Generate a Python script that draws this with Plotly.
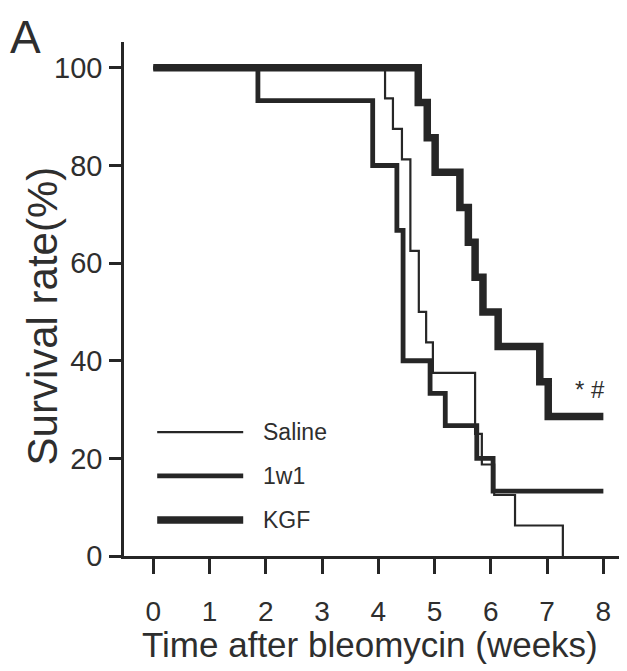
import plotly.graph_objects as go

# ---- data ----
saline_t = [0, 4.12, 4.26, 4.42, 4.57, 4.72, 4.85, 4.97, 5.72, 5.84, 6.06, 6.43, 7.28]
saline_s = [100, 93.75, 87.5, 81.25, 62.5, 50.0, 43.75, 37.5, 25.0, 18.75, 12.5, 6.25, 0]

w1_t = [0, 1.86, 3.90, 4.33, 4.44, 4.92, 5.19, 5.75, 6.04, 8.0]
w1_s = [100, 93.3, 80.0, 66.7, 40.0, 33.3, 26.7, 20.0, 13.3, 13.3]

kgf_t = [0, 4.71, 4.87, 5.01, 5.45, 5.60, 5.72, 5.86, 6.13, 6.87, 7.02, 8.0]
kgf_s = [100, 92.9, 85.7, 78.6, 71.4, 64.3, 57.1, 50.0, 42.9, 35.7, 28.6, 28.6]

series_names = ["Saline", "1w1", "KGF"]
x_ticks = [0, 1, 2, 3, 4, 5, 6, 7, 8]
y_ticks = [0, 20, 40, 60, 80, 100]

INK = "#262626"
TXT = "#2e2e2e"
FONT = "Liberation Sans, Arial, Helvetica, sans-serif"
widths = [2.2, 4.8, 7.5]

fig = go.Figure()
for name, t, s, w in zip(series_names, [saline_t, w1_t, kgf_t],
                         [saline_s, w1_s, kgf_s], widths):
    fig.add_trace(go.Scatter(x=t, y=s, mode="lines", name=name,
                             line=dict(color=INK, width=w, shape="hv"),
                             showlegend=False))

# custom legend (long line samples, as in the figure)
leg_y = [0.241, 0.156, 0.070]
for name, w, yy in zip(series_names, widths, leg_y):
    fig.add_shape(type="line", xref="paper", yref="paper",
                  x0=0.066, x1=0.237, y0=yy, y1=yy,
                  line=dict(color=INK, width=w))
    fig.add_annotation(text=name, xref="paper", yref="paper", x=0.272, y=yy,
                       xanchor="left", yanchor="middle", showarrow=False,
                       font=dict(family=FONT, size=23, color=TXT))

# significance marks
fig.add_annotation(text="* #", xref="paper", yref="paper", x=0.926, y=0.324,
                   xanchor="center", yanchor="middle", showarrow=False,
                   font=dict(family=FONT, size=24, color=TXT))

# panel letter
fig.add_annotation(text="A", xref="paper", yref="paper", x=-0.23, y=1.065,
                   xanchor="left", yanchor="top", showarrow=False,
                   font=dict(family=FONT, size=46, color=TXT))

# axis titles
fig.add_annotation(text="Survival rate(%)", xref="paper", yref="paper",
                   x=-0.162, y=0.467, textangle=-90, showarrow=False,
                   xanchor="center", yanchor="middle",
                   font=dict(family=FONT, size=42, color=TXT))
fig.add_annotation(text="Time after bleomycin (weeks)", xref="paper", yref="paper",
                   x=0.49, y=-0.173, showarrow=False,
                   xanchor="center", yanchor="middle",
                   font=dict(family=FONT, size=35, color=TXT))

# the page body adds an 8px offset; plot area spans x 124..627, y 42..556 px
fig.update_layout(
    width=619, height=663,
    margin=dict(l=116, r=0, t=34, b=115),
    plot_bgcolor="white", paper_bgcolor="white",
    font=dict(family=FONT, color=TXT),
)
fig.update_xaxes(range=[-0.52, 8.42], tickvals=x_ticks, ticktext=[str(v) for v in x_ticks],
                 showgrid=False, zeroline=False, showline=True, linecolor=INK, linewidth=2.5,
                 ticks="outside", ticklen=15, tickwidth=2.5, tickcolor=INK,
                 ticklabelstandoff=14,
                 tickfont=dict(family=FONT, size=28, color=TXT))
fig.update_yaxes(range=[0, 105.3], tickvals=y_ticks, ticktext=[str(v) for v in y_ticks],
                 showgrid=False, zeroline=False, showline=True, linecolor=INK, linewidth=2.5,
                 ticks="outside", ticklen=12, tickwidth=2.5, tickcolor=INK,
                 ticklabelstandoff=1,
                 tickfont=dict(family=FONT, size=29, color=TXT))

fig.write_html("out.html")
